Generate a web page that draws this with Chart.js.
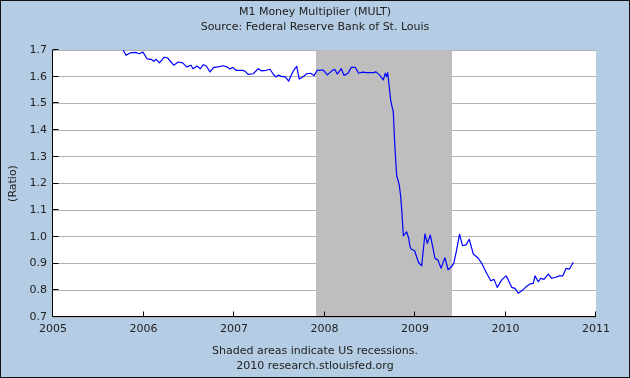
<!DOCTYPE html>
<html><head><meta charset="utf-8">
<script src="https://cdn.jsdelivr.net/npm/chart.js@4.4.1/dist/chart.umd.min.js"></script>
<style>html,body{margin:0;padding:0;background:#b4cce4}canvas{display:block}</style>
</head><body>
<canvas id="c" width="630" height="378"></canvas>
<script>
const titleLines = ['M1 Money Multiplier (MULT)', 'Source: Federal Reserve Bank of St. Louis'];
const footerLines = ['Shaded areas indicate US recessions.', '2010 research.stlouisfed.org'];
const yAxisTitle = '(Ratio)';
const xMin = 2005, xMax = 2011;
const yMin = 0.7, yMax = 1.7, yStep = 0.1;
const recessionStart = [2007.91];
const recessionEnd = [2009.41];

const dates = [
2005.766,2005.807,2005.851,2005.914,2005.950,2005.994,2006.039,2006.083,2006.113,2006.141,
2006.175,2006.230,2006.267,2006.334,2006.384,2006.433,2006.477,2006.525,2006.547,2006.591,
2006.628,2006.661,2006.694,2006.735,2006.776,2006.826,2006.882,2006.919,2006.956,2006.986,
2007.022,2007.088,2007.118,2007.155,2007.213,2007.268,2007.302,2007.354,2007.398,2007.434,
2007.464,2007.494,2007.523,2007.567,2007.604,2007.633,2007.663,2007.693,2007.721,2007.759,
2007.803,2007.847,2007.884,2007.920,2007.987,2008.031,2008.075,2008.113,2008.141,2008.186,
2008.215,2008.260,2008.296,2008.340,2008.378,2008.422,2008.466,2008.539,2008.569,2008.606,
2008.650,2008.672,2008.687,2008.698,2008.716,2008.731,2008.746,2008.760,2008.776,
2008.790,2008.798,2008.812,2008.826,2008.842,2008.856,2008.871,2008.893,2008.908,2008.930,
2008.945,2008.959,2008.997,2009.011,2009.041,2009.074,2009.110,2009.136,2009.169,2009.188,
2009.221,2009.254,2009.287,2009.331,2009.365,2009.403,2009.428,2009.456,2009.492,2009.525,
2009.564,2009.600,2009.644,2009.699,2009.737,2009.792,2009.837,2009.873,2009.909,2009.958,
2010.006,2010.031,2010.068,2010.105,2010.141,2010.179,2010.227,2010.271,2010.307,2010.326,
2010.362,2010.389,2010.425,2010.473,2010.511,2010.558,2010.594,2010.632,2010.669,2010.705,
2010.749
];
const multiplier = [
1.706,1.680,1.689,1.691,1.686,1.692,1.667,1.665,1.658,1.665,
1.652,1.673,1.670,1.643,1.655,1.652,1.637,1.643,1.630,1.640,
1.630,1.645,1.640,1.618,1.635,1.637,1.641,1.637,1.629,1.635,
1.624,1.624,1.622,1.609,1.611,1.630,1.622,1.624,1.628,1.609,
1.599,1.606,1.601,1.599,1.583,1.606,1.626,1.639,1.591,1.599,
1.611,1.613,1.604,1.624,1.625,1.607,1.620,1.628,1.610,1.630,
1.605,1.613,1.635,1.635,1.613,1.617,1.615,1.615,1.618,1.607,
1.588,1.613,1.600,1.615,1.560,1.513,1.488,1.469,1.350,
1.269,1.228,1.213,1.194,1.151,1.088,1.004,1.013,1.019,0.995,
0.963,0.954,0.948,0.932,0.903,0.892,1.011,0.976,1.007,0.976,
0.920,0.913,0.883,0.922,0.877,0.888,0.901,0.945,1.010,0.967,
0.970,0.991,0.936,0.920,0.901,0.864,0.836,0.841,0.811,0.839,
0.854,0.839,0.811,0.807,0.789,0.798,0.813,0.824,0.826,0.854,
0.832,0.845,0.841,0.861,0.845,0.849,0.854,0.854,0.882,0.879,
0.905
];

const FONT = 'DejaVu Sans';
const TXT = '#222';

const deco = {
  id: 'deco',
  beforeDraw(chart) {
    const {ctx, chartArea: a} = chart;
    ctx.save();
    ctx.fillStyle = '#b4cce4';
    ctx.fillRect(0, 0, chart.width, chart.height);
    ctx.fillStyle = '#ffffff';
    ctx.fillRect(a.left, a.top, a.right - a.left, a.bottom - a.top);
    ctx.restore();
  },
  beforeDatasetsDraw(chart) {
    const {ctx, chartArea: a, scales: {x}} = chart;
    ctx.save();
    ctx.fillStyle = '#bebebe';
    for (let i = 0; i < recessionStart.length; i++) {
      const x0 = Math.round(x.getPixelForValue(recessionStart[i]));
      const x1 = Math.round(x.getPixelForValue(recessionEnd[i]));
      ctx.fillRect(x0, a.top, x1 - x0, a.bottom - a.top);
    }
    ctx.restore();
  },
  afterDatasetsDraw(chart) {
    const {ctx, chartArea: a, scales: {x, y}} = chart;
    ctx.save();
    ctx.strokeStyle = '#000';
    ctx.lineWidth = 1;
    ctx.beginPath();
    const L = Math.round(a.left) - 0.5, B = Math.round(a.bottom) - 0.5;
    ctx.moveTo(L, Math.round(a.top));
    ctx.lineTo(L, B);
    ctx.lineTo(Math.round(a.right), B);
    x.ticks.forEach(t => {
      const px = Math.round(x.getPixelForValue(t.value)) - 0.5;
      ctx.moveTo(px, B); ctx.lineTo(px, B - 5);
    });
    y.ticks.forEach(t => {
      const py = Math.round(y.getPixelForValue(t.value)) - 0.5;
      ctx.moveTo(L, py); ctx.lineTo(L + 6, py);
    });
    ctx.stroke();
    ctx.strokeStyle = '#111';
    ctx.strokeRect(0.5, 0.5, chart.width - 1, chart.height - 1);
    ctx.restore();
  }
};

new Chart(document.getElementById('c'), {
  type: 'line',
  data: {
    datasets: [{
      data: dates.map((d, i) => ({x: d, y: multiplier[i]})),
      borderColor: '#0000ff',
      borderWidth: 1.2,
      borderJoinStyle: 'round',
      pointRadius: 0,
      tension: 0,
      fill: false
    }]
  },
  options: {
    responsive: false,
    devicePixelRatio: 1,
    animation: false,
    layout: {padding: {left: 1, right: 1, top: 1, bottom: 1}},
    plugins: {
      legend: {display: false},
      tooltip: {enabled: false},
      title: {
        display: true, text: titleLines, color: TXT,
        font: {family: FONT, size: 11, weight: 'normal', lineHeight: 15 / 11},
        padding: {top: 4, bottom: 15}
      },
      subtitle: {
        display: true, position: 'bottom', text: footerLines, color: TXT,
        font: {family: FONT, size: 11, weight: 'normal', lineHeight: 15 / 11},
        padding: {top: 4, bottom: 3}
      }
    },
    scales: {
      x: {
        type: 'linear', min: xMin, max: xMax,
        grid: {display: false, drawTicks: false},
        border: {display: false},
        ticks: {stepSize: 1, color: TXT, padding: 6, maxRotation: 0,
          font: {family: FONT, size: 11}, callback: v => String(v)},
        afterFit(s) { s.height = 23; }
      },
      y: {
        type: 'linear', min: yMin, max: yMax,
        grid: {color: '#b0b0b0', drawTicks: false, lineWidth: 1},
        border: {display: false},
        ticks: {stepSize: yStep, color: TXT, padding: 6,
          font: {family: FONT, size: 11}, callback: v => v.toFixed(1)},
        title: {display: true, text: yAxisTitle, color: TXT,
          font: {family: FONT, size: 11}, padding: {top: 6, bottom: 0}},
        afterFit(s) { s.width = 52; }
      },
      yR: {
        type: 'linear', position: 'right', display: true,
        grid: {display: false, drawTicks: false},
        border: {display: false},
        ticks: {display: false},
        afterFit(s) { s.width = 33; }
      }
    }
  },
  plugins: [deco]
});
</script>
</body></html>
